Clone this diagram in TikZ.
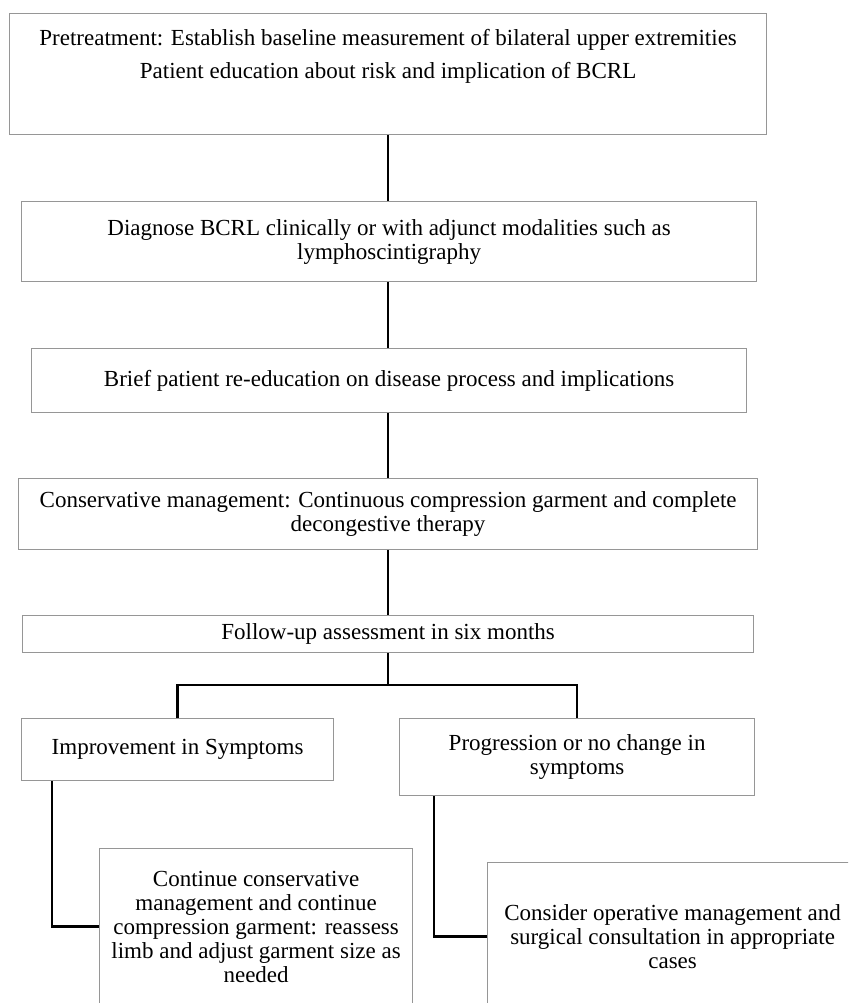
\documentclass[tikz,border=0pt]{standalone}
\usepackage{fontspec}
\setmainfont{Liberation Serif}
\usepackage{tikz}
\definecolor{boxgray}{RGB}{150,150,150}

\begin{document}
\begin{tikzpicture}[x=1pt, y=-1pt,
    flowbox/.style={draw=boxgray, line width=1.2pt, inner sep=0pt, align=center, anchor=north west,
        font=\fontsize{23}{24}\selectfont},
    link/.style={line width=2.4pt}]
            \useasboundingbox (0, 0) rectangle (848, 1003);
            \clip (0, 0) rectangle (848, 1003);
            \node[flowbox, minimum width=757pt, minimum height=121pt] (pre) at (9, 13)
                {Pretreatment: Establish baseline measurement of bilateral upper extremities\\[9pt]
                 Patient education about risk and implication of BCRL\\[9pt]\strut};
            \node[flowbox, minimum width=735pt, minimum height=80pt] (diag) at (21, 201)
                {Diagnose BCRL clinically or with adjunct modalities such as\\lymphoscintigraphy};
            \node[flowbox, minimum width=715pt, minimum height=64pt] (brief) at (31, 348)
                {Brief patient re-education on disease process and implications};
            \node[flowbox, minimum width=739pt, minimum height=71pt] (cons) at (18, 478)
                {Conservative management: Continuous compression garment and complete\\decongestive therapy};
            \node[flowbox, minimum width=731pt, minimum height=37pt] (follow) at (22, 615)
                {Follow-up assessment in six months};
            \node[flowbox, minimum width=312pt, minimum height=62pt] (improve) at (21, 718)
                {Improvement in Symptoms};
            \node[flowbox, minimum width=355pt, minimum height=77pt] (progress) at (399, 718)
                {Progression or no change in\\symptoms};
            \node[flowbox, minimum width=313pt, minimum height=156pt] (contin) at (99, 848)
                {Continue conservative\\management and continue\\compression garment: reassess\\limb and adjust garment size as\\needed};
            \node[flowbox, minimum width=370pt, minimum height=148pt] (consider) at (487, 862)
                {Consider operative management and\\surgical consultation in appropriate\\cases};
            \coordinate (split) at (387, 685);
            \draw[link] (pre.south) -- (pre.south |- diag.north);
            \draw[link] (pre.south |- diag.south) -- (pre.south |- brief.north);
            \draw[link] (pre.south |- brief.south) -- (pre.south |- cons.north);
            \draw[link] (pre.south |- cons.south) -- (pre.south |- follow.north);
            \draw[link] (follow.south) -- (follow.south |- split);
            \draw[link] (improve.north) -- (improve.north |- split) -- (progress.north |- split) -- (progress.north);
            \draw[link] ([xshift=31pt]improve.south west) |- (contin.west);
            \draw[link] ([xshift=35pt]progress.south west) |- (consider.west);
        \end{tikzpicture}
\end{document}
